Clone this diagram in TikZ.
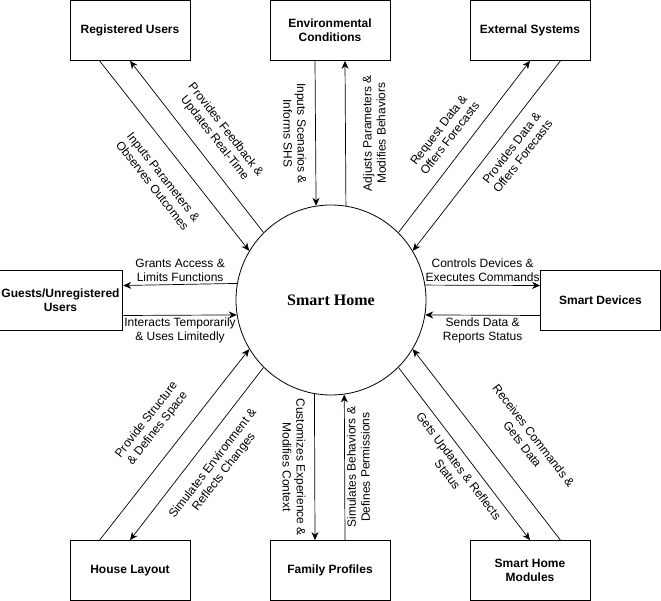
\documentclass[tikz,border=0pt]{standalone}
\usepackage{fontspec}
\setmainfont{Liberation Sans}
\newfontfamily\homefont{Liberation Serif}
\usetikzlibrary{arrows.meta}
\tikzset{
	entity/.style={draw, line width=0.8pt, minimum width=120pt, minimum height=60pt,
			align=center, font=\fontsize{12}{14}\selectfont\bfseries},
	flow/.style={line width=0.7pt, -{Stealth[length=8pt, width=7pt]}},
	note/.style={align=center, inner sep=1pt, font=\fontsize{12}{14}\selectfont}
}

\begin{document}
\begin{tikzpicture}[x=1pt, y=-1pt]
		\useasboundingbox (0,0) rectangle (661,601);

		\node[circle, draw, line width=0.8pt, minimum size=190pt,
			font=\homefont\fontsize{16}{18}\selectfont\bfseries] (home) at (331,300) {Smart Home};

		% outer entities
		\node[entity] (reg) at (130,30.5) {Registered Users};
		\node[entity] (env) at (330,30.5) {Environmental\\Conditions};
		\node[entity] (ext) at (530,30.5) {External Systems};
		\node[entity] (guest) at (60.5,300.5) {Guests/Unregistered\\Users};
		\node[entity] (dev) at (600.5,300.5) {Smart Devices};
		\node[entity] (layout) at (130,570.5) {House Layout};
		\node[entity] (family) at (330,570.5) {Family Profiles};
		\node[entity] (modules) at (530,570.5) {Smart Home\\Modules};

		% registered users
		\draw[flow] ([xshift=30pt]reg.south west) to node[note, sloped, below=16pt, pos=0.54] {Inputs Parameters \&\\Observes Outcomes} (home.149);
		\draw[flow] (home.135) to node[note, sloped, above=12pt, pos=0.48] {Provides Feedback \&\\Updates Real-Time} (reg.south);

		% environmental conditions
		\draw[flow] ([xshift=-15pt]env.south) to node[note, sloped, below=8pt] {Inputs Scenarios \&\\Informs SHS} (home.99.7);
		\draw[flow] (home.81.5) to node[note, sloped, allow upside down, below=16pt] {Adjusts Parameters \&\\Modifies Behaviors} ([xshift=15pt]env.south);

		% external systems
		\draw[flow] (home.45) to node[note, sloped, above=11pt, pos=0.49] {Request Data \&\\Offers Forecasts} (ext.south);
		\draw[flow] ([xshift=-30pt]ext.south east) to node[note, sloped, below=9pt, pos=0.41] {Provides Data \&\\Offers Forecasts} (home.31);

		% guests
		\draw[flow] (home.170.9) to node[note, above=1pt] {Grants Access \&\\Limits Functions} ([yshift=15pt]guest.east);
		\draw[flow] ([yshift=-15pt]guest.east) to node[note, below=1pt] {Interacts Temporarily\\\& Uses Limitedly} (home.189.1);

		% smart devices
		\draw[flow] (home.9.1) to node[note, above=2pt] {Controls Devices \&\\Executes Commands} ([yshift=15pt]dev.west);
		\draw[flow] ([yshift=-15pt]dev.west) to node[note, below=1pt] {Sends Data \&\\Reports Status} (home.-9.1);

		% house layout
		\draw[flow] ([xshift=30pt]layout.north west) to node[note, sloped, above=16pt, pos=0.51] {Provide Structure\\\& Defines Space} (home.211);
		\draw[flow] (home.225) to node[note, sloped, below=12pt, pos=0.49] {Simulates Environment \&\\Reflects Changes} (layout.north);

		% family profiles
		\draw[flow] (home.260.3) to node[note, sloped, below=8pt] {Customizes Experience \&\\Modifies Context} ([xshift=-15pt]family.north);
		\draw[flow] ([xshift=15pt]family.north) to node[note, sloped, allow upside down, below=1pt] {Simulates Behaviors \&\\Defines Permissions} (home.278.5);

		% smart home modules
		\draw[flow] (home.315) to node[note, sloped, below=6pt, pos=0.53] {Gets Updates \& Reflects\\Status} (modules.north);
		\draw[flow] ([xshift=-30pt]modules.north east) to node[note, sloped, above=23pt, pos=0.41] {Receives Commands \&\\Gets Data} (home.329);
	\end{tikzpicture}
\end{document}
